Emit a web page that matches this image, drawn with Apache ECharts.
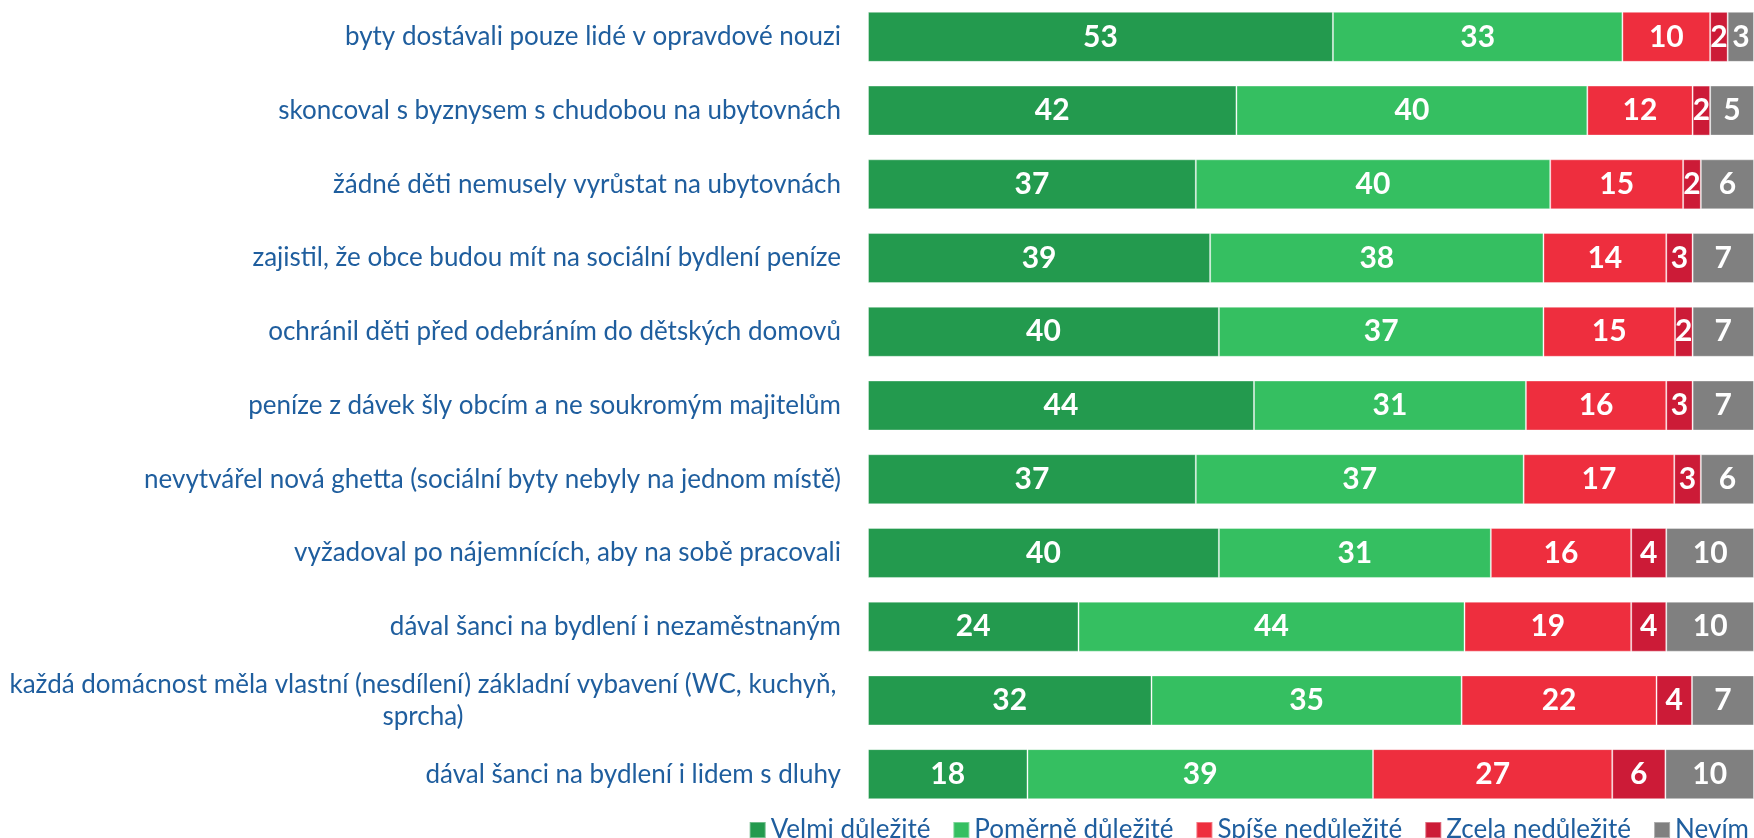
<!DOCTYPE html>
<html>
<head>
<meta charset="UTF-8">
<title>Sociální bydlení</title>
<script src="https://cdn.jsdelivr.net/npm/echarts@6/dist/echarts.min.js"></script>
<style>
  html, body { margin: 0; padding: 0; background: #fff; }
  #chart { width: 1754px; height: 838px; }
</style>
</head>
<body>
<div id="chart"></div>
<script>
// kategorie (odshora dolů)
var categories = [
  'byty dostávali pouze lidé v opravdové nouzi',
  'skoncoval s byznysem s chudobou na ubytovnách',
  'žádné děti nemusely vyrůstat na ubytovnách',
  'zajistil, že obce budou mít na sociální bydlení peníze',
  'ochránil děti před odebráním do dětských domovů',
  'peníze z dávek šly obcím a ne soukromým majitelům',
  'nevytvářel nová ghetta (sociální byty nebyly na jednom místě)',
  'vyžadoval po nájemnících, aby na sobě pracovali',
  'dával šanci na bydlení i nezaměstnaným',
  'každá domácnost měla vlastní (nesdílení) základní vybavení (WC, kuchyň,\nsprcha)',
  'dával šanci na bydlení i lidem s dluhy'
];

var seriesNames = ['Velmi důležité', 'Poměrně důležité', 'Spíše nedůležité', 'Zcela nedůležité', 'Nevím'];

var velmi    = [53, 42, 37, 39, 40, 44, 37, 40, 24, 32, 18];
var pomerne  = [33, 40, 40, 38, 37, 31, 37, 31, 44, 35, 39];
var spise    = [10, 12, 15, 14, 15, 16, 17, 16, 19, 22, 27];
var zcela    = [2, 2, 2, 3, 2, 3, 3, 4, 4, 4, 6];
var nevim    = [3, 5, 6, 7, 7, 7, 6, 10, 10, 7, 10];

var colors = ['#239A4E', '#35BF61', '#EE2E3E', '#CC1B37', '#808080'];

var values = [velmi, pomerne, spise, zcela, nevim];

// součty řádků – graf je 100% skládaný
var totals = categories.map(function (c, i) {
  return values.reduce(function (s, arr) { return s + arr[i]; }, 0);
});

var chart = echarts.init(document.getElementById('chart'));

var series = values.map(function (arr, k) {
  return {
    name: seriesNames[k],
    type: 'bar',
    stack: 'total',
    barWidth: 50,
    itemStyle: { color: colors[k], borderColor: 'rgba(255,255,255,0.35)', borderWidth: 1 },
    label: {
      show: true,
      position: 'inside',
      color: '#fff',
      fontFamily: 'Lato',
      fontWeight: 'bold',
      fontSize: 30,
      formatter: function (p) { return arr[p.dataIndex]; }
    },
    data: arr.map(function (v, i) { return v / totals[i] * 100; })
  };
});

var option = {
  animation: false,
  color: colors,
  grid: { left: 868, right: 0, top: -3, height: 814 },
  legend: {
    data: seriesNames,
    right: 0,
    top: 812,
    icon: 'rect',
    itemWidth: 16,
    itemHeight: 16,
    itemGap: 22,
    textStyle: { color: '#1F5E9E', fontFamily: 'Lato', fontSize: 26 }
  },
  xAxis: {
    type: 'value',
    min: 0,
    max: 100,
    show: false
  },
  yAxis: {
    type: 'category',
    inverse: true,
    data: categories,
    axisLine: { show: false },
    axisTick: { show: false },
    axisLabel: {
      margin: 27,
      color: '#1F5E9E',
      fontFamily: 'Lato',
      fontSize: 26,
      lineHeight: 32,
      formatter: function (v) {
        if (v.indexOf('\n') < 0) return v;
        return v.split('\n').map(function (l) { return '{c|' + l + '}'; }).join('\n');
      },
      rich: {
        c: { width: 836, align: 'center', color: '#1F5E9E', fontFamily: 'Lato', fontSize: 26, lineHeight: 32 }
      }
    }
  },
  series: series
};

chart.setOption(option);
</script>
</body>
</html>
